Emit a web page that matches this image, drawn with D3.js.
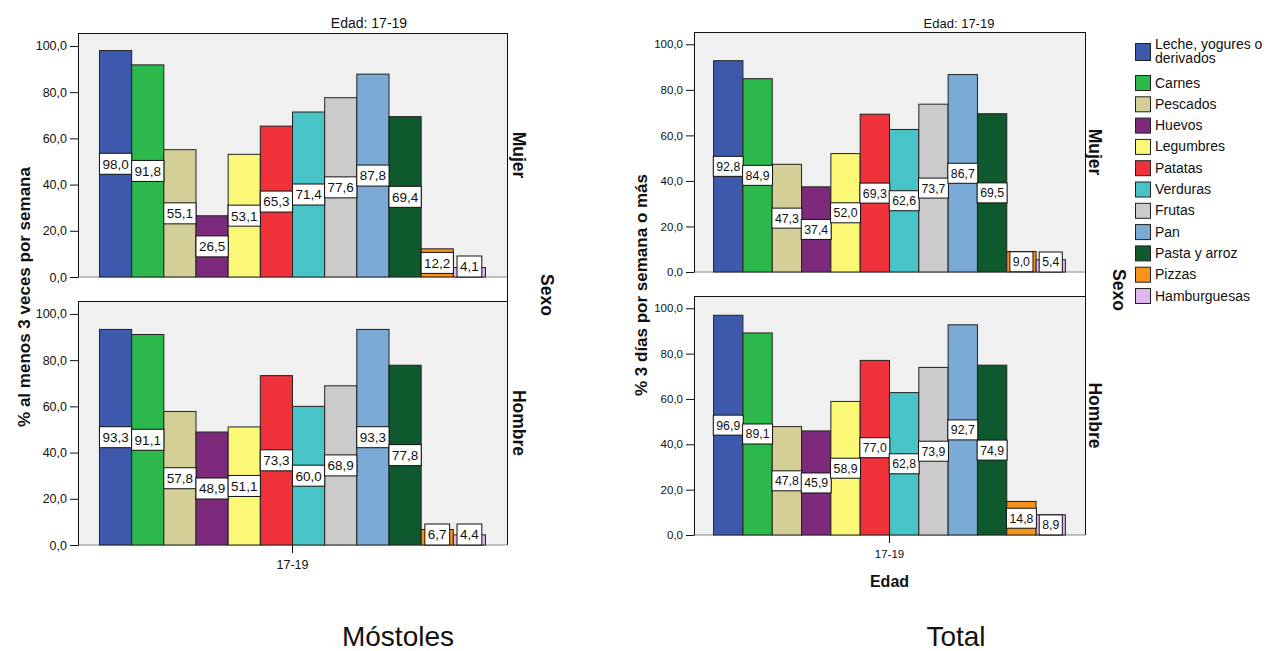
<!DOCTYPE html>
<html><head><meta charset="utf-8">
<script src="https://cdn.jsdelivr.net/npm/d3@7"></script>
<style>
body{margin:0;background:#fff}
svg{display:block}
text{font-family:"Liberation Sans",Arial,sans-serif;fill:#111}
</style>
</head><body>
<svg id="chart" width="1272" height="651"></svg>
<script>
// ---------- DATA ----------
const categories = ["Leche, yogures o derivados","Carnes","Pescados","Huevos","Legumbres","Patatas","Verduras","Frutas","Pan","Pasta y arroz","Pizzas","Hamburguesas"];
const colors = ["#3d59ab","#2db84b","#d4cf97","#7d2a7d","#fbf877","#ef3139","#48c3c6","#cbcbcb","#7aaad6","#0e5a2e","#f7931d","#dcb6ee"];
const ages = ["17-19"];
const sexes = ["Mujer","Hombre"];
const yTicks = [0,20,40,60,80,100];
const mostolesMujer  = [98.0,91.8,55.1,26.5,53.1,65.3,71.4,77.6,87.8,69.4,12.2,4.1];
const mostolesHombre = [93.3,91.1,57.8,48.9,51.1,73.3,60.0,68.9,93.3,77.8,6.7,4.4];
const totalMujer     = [92.8,84.9,47.3,37.4,52.0,69.3,62.6,73.7,86.7,69.5,9.0,5.4];
const totalHombre    = [96.9,89.1,47.8,45.9,58.9,77.0,62.8,73.9,92.7,74.9,14.8,8.9];
const legendLines = [["Leche, yogures o","derivados"],["Carnes"],["Pescados"],["Huevos"],["Legumbres"],["Patatas"],["Verduras"],["Frutas"],["Pan"],["Pasta y arroz"],["Pizzas"],["Hamburguesas"]];

// ---------- HELPERS ----------
const loc = d3.formatLocale({decimal:",",thousands:".",grouping:[3],currency:["","€"]});
const fmt = loc.format(".1f");
const svg = d3.select("#chart");

function drawChart(cfg){
  const g = svg.append("g");
  const xAge = d3.scaleBand().domain(ages).range([cfg.left,cfg.right]).paddingInner(0).paddingOuter(0.0557);
  const xCat = d3.scaleBand().domain(categories).range([0,xAge.bandwidth()]).padding(0);

  cfg.panels.forEach((p,pi)=>{
    const y = d3.scaleLinear().domain([0,cfg.ymax]).range([p.zero,p.top]);
    const pg = g.append("g");
    pg.append("rect").attr("x",cfg.left).attr("y",p.top).attr("width",cfg.right-cfg.left).attr("height",p.zero-p.top).attr("fill","#f0f0f0");
    pg.append("line").attr("x1",cfg.left).attr("x2",cfg.right).attr("y1",p.top+0.5).attr("y2",p.top+0.5).attr("stroke","#111");
    pg.append("line").attr("x1",cfg.left).attr("x2",cfg.right).attr("y1",p.zero).attr("y2",p.zero).attr("stroke","#888");
    const vals = p.values;
    ages.forEach(a=>{
      pg.selectAll("rect.bar").data(categories).enter().append("rect")
        .attr("class","bar")
        .attr("x",c=>xAge(a)+xCat(c))
        .attr("y",(c,i)=>y(vals[i]))
        .attr("width",xCat.bandwidth())
        .attr("height",(c,i)=>p.zero-y(vals[i]))
        .attr("fill",(c,i)=>colors[i])
        .attr("stroke","#222").attr("stroke-width",1);
    });
    // axis
    const ax = pg.append("g").attr("transform",`translate(${cfg.left},0)`)
      .call(d3.axisLeft(y).tickValues(yTicks).tickSize(8).tickSizeOuter(0).tickFormat(fmt));
    ax.select(".domain").attr("stroke","#111");
    ax.selectAll(".tick line").attr("stroke","#111");
    ax.selectAll(".tick text").attr("font-size",cfg.tickFont).attr("fill","#222").attr("font-family","Liberation Sans, Arial, sans-serif");
    // labels
    ages.forEach(a=>{
      categories.forEach((c,i)=>{
        const cx = xAge(a)+xCat(c)+xCat.bandwidth()/2;
        const lg = pg.append("g");
        const t = lg.append("text").attr("x",cx).attr("text-anchor","middle").attr("font-size",cfg.labelFont).text(fmt(vals[i]));
        const w = t.node().getComputedTextLength()+6;
        const h = cfg.boxH;
        let cy = y(vals[i]/2);
        if (cy + h/2 > p.zero) cy = p.zero - h/2;
        lg.insert("rect","text").attr("x",cx-w/2).attr("y",cy-h/2).attr("width",w).attr("height",h).attr("fill","#fff").attr("stroke","#111");
        t.attr("y",cy).attr("dy","0.36em");
      });
    });
    // strip label
    const sy = (p.top+p.zero)/2;
    g.append("text").attr("transform",`translate(${cfg.stripX},${sy}) rotate(90)`).attr("text-anchor","middle")
      .attr("font-size",17.5).attr("font-weight","bold").text(sexes[pi]);
  });
  const pTop = cfg.panels[0], pBot = cfg.panels[cfg.panels.length-1];
  g.append("line").attr("x1",cfg.right+0.5).attr("x2",cfg.right+0.5).attr("y1",pTop.top).attr("y2",pBot.zero).attr("stroke","#111");
  // x axis
  const xa = g.append("g").attr("transform",`translate(0,${pBot.zero})`).call(d3.axisBottom(xAge).tickSize(8).tickSizeOuter(0));
  xa.select(".domain").remove();
  xa.selectAll(".tick line").attr("stroke","#111");
  xa.selectAll(".tick text").attr("font-size",cfg.tickFont).attr("fill","#222").attr("font-family","Liberation Sans, Arial, sans-serif").attr("dy","1.05em");
  if (cfg.xTitle) g.append("text").attr("x",xAge("17-19")+xAge.bandwidth()/2).attr("y",cfg.xTitleY).attr("text-anchor","middle").attr("font-size",16).attr("font-weight","bold").text(cfg.xTitle);
  // Sexo
  g.append("text").attr("transform",`translate(${cfg.sexoX},${(pTop.zero+pBot.top)/2+6}) rotate(90)`).attr("text-anchor","middle").attr("font-size",17.5).attr("font-weight","bold").text("Sexo");
  // top title
  g.append("text").attr("x",cfg.titleX).attr("y",28).attr("text-anchor","middle").attr("font-size",cfg.titleFont).text("Edad: " + ages[0]);
  // y title
  g.append("text").attr("transform",`translate(${cfg.yTitleX},${cfg.yTitleY}) rotate(-90)`).attr("text-anchor","middle").attr("font-size",17).attr("font-weight","bold").text(cfg.yTitle);
  // bottom big title
  g.append("text").attr("x",cfg.bigX).attr("y",646).attr("text-anchor","middle").attr("font-size",28).text(cfg.bigTitle);
}

drawChart({
  left:78,right:507,ymax:105.6,
  panels:[{top:33,zero:277,values:mostolesMujer},{top:301,zero:545,values:mostolesHombre}],
  tickFont:12.5,labelFont:13.5,boxH:21,stripX:513,sexoX:541,titleX:369,titleFont:14,
  yTitle:"% al menos 3 veces por semana",yTitleX:30,yTitleY:297,
  bigTitle:"Móstoles",bigX:398
});
drawChart({
  left:694,right:1085,ymax:105.4,
  panels:[{top:32,zero:272,values:totalMujer},{top:296,zero:535,values:totalHombre}],
  tickFont:11.5,labelFont:12.3,boxH:20,stripX:1089,sexoX:1113,titleX:959,titleFont:13,
  yTitle:"% 3 días por semana o más",yTitleX:647,yTitleY:285,
  xTitle:"Edad",xTitleY:587,
  bigTitle:"Total",bigX:956
});

// legend
const leg = svg.append("g");
let yy = 43;
legendLines.forEach((lines,i)=>{
  const h = i===0 ? 17 : 15;
  const top = i===0 ? 43 : 75 + (i-1)*21.3;
  leg.append("rect").attr("x",1135.5).attr("y",top+0.5).attr("width",15).attr("height",h).attr("fill",colors[i]).attr("stroke","#222");
  lines.forEach((l,j)=>{
    leg.append("text").attr("x",1155).attr("y",(i===0? 48.5 : 87.5+(i-1)*21.3) + j*14).attr("font-size",14).text(l);
  });
});
</script>
</body></html>
